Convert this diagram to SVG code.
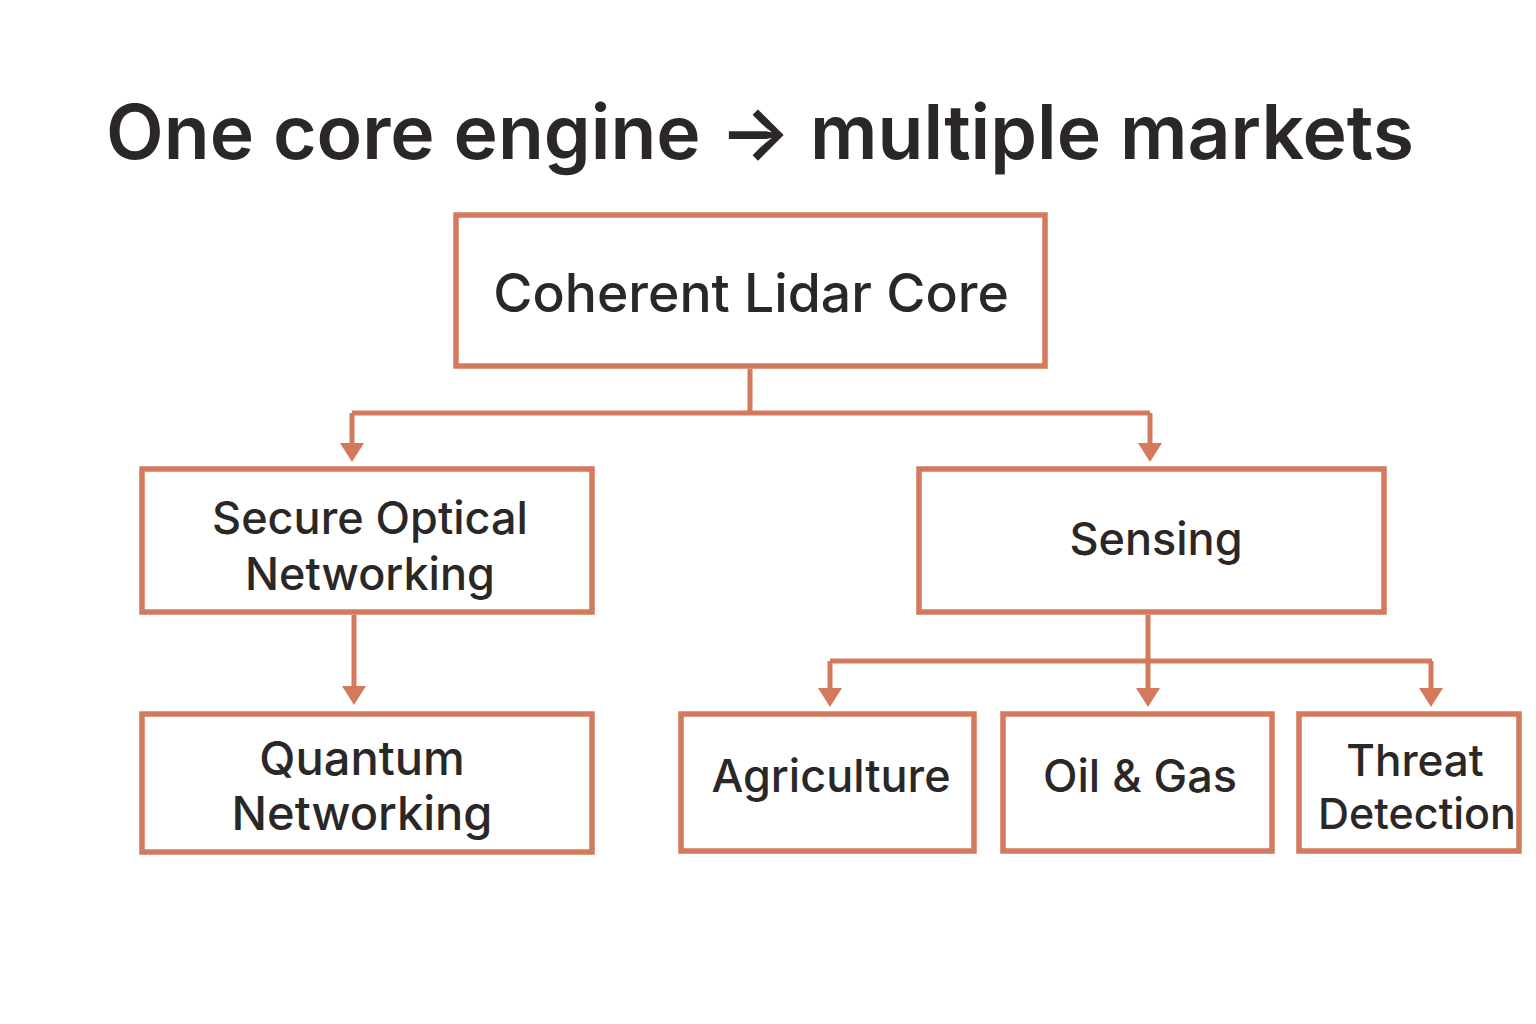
<svg xmlns="http://www.w3.org/2000/svg" width="1536" height="1024" viewBox="0 0 1536 1024">
<style>
.box{fill:#fff;stroke:#D47A5C;stroke-width:5.5}
.lbl{font-family:Inter,"Liberation Sans",sans-serif;font-weight:500;fill:#2b2727;text-anchor:middle}
.conn{fill:none;stroke:#D47A5C;stroke-width:5}
.head{fill:#D47A5C}
.title{font-family:Inter,"Liberation Sans",sans-serif;font-weight:600;fill:#2b2727;font-size:75px;text-anchor:middle}
</style>
<rect width="1536" height="1024" fill="#fff"/>
<text class="title" x="760" y="159">One core engine → multiple markets</text>
<g id="connectors">
<path class="conn" d="M750,369 V413 M352,413 H1150"/>
<path d="M352,413 V444" class="conn"/>
<path class="head" d="M340,443 L364,443 L352,462 Z"/>
<path d="M1150,413 V444" class="conn"/>
<path class="head" d="M1138,443 L1162,443 L1150,462 Z"/>
<path d="M354,615 V688" class="conn"/>
<path class="head" d="M342,686 L366,686 L354,705 Z"/>
<path class="conn" d="M1148,615 V661 M830,661 H1432"/>
<path d="M830,661 V690" class="conn"/>
<path class="head" d="M818,688 L842,688 L830,707 Z"/>
<path d="M1148,661 V690" class="conn"/>
<path class="head" d="M1136,688 L1160,688 L1148,707 Z"/>
<path d="M1431,661 V690" class="conn"/>
<path class="head" d="M1419,688 L1443,688 L1431,707 Z"/>
</g>
<g id="core">
<rect class="box" x="456" y="215" width="589" height="151"/>
<text class="lbl" x="751" y="312" font-size="53.5">Coherent Lidar Core</text>
</g>
<g id="secure">
<rect class="box" x="142" y="469" width="450" height="143"/>
<text class="lbl" x="370" y="534" font-size="45">Secure Optical</text>
<text class="lbl" x="370" y="590" font-size="45">Networking</text>
</g>
<g id="sensing">
<rect class="box" x="919" y="469" width="465" height="143"/>
<text class="lbl" x="1156" y="555" font-size="45">Sensing</text>
</g>
<g id="quantum">
<rect class="box" x="142" y="714" width="450" height="138"/>
<text class="lbl" x="362" y="775" font-size="47">Quantum</text>
<text class="lbl" x="362" y="830" font-size="47">Networking</text>
</g>
<g id="agriculture">
<rect class="box" x="681" y="714" width="293" height="137"/>
<text class="lbl" x="831" y="792" font-size="45">Agriculture</text>
</g>
<g id="oilgas">
<rect class="box" x="1003" y="714" width="269" height="137"/>
<text class="lbl" x="1140" y="792" font-size="45">Oil &amp; Gas</text>
</g>
<g id="threat">
<rect class="box" x="1299" y="714" width="220" height="137"/>
<text class="lbl" x="1415" y="776" font-size="44">Threat</text>
<text class="lbl" x="1417" y="829" font-size="43">Detection</text>
</g>
</svg>
